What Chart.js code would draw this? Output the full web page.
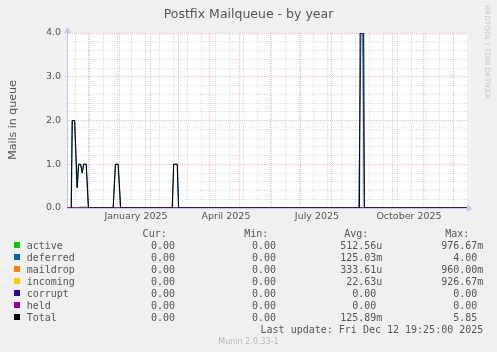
<!DOCTYPE html>
<html>
<head>
<meta charset="utf-8">
<script src="https://cdn.jsdelivr.net/npm/chart.js@4/dist/chart.umd.min.js"></script>
<style>
  html, body { margin: 0; padding: 0; background: #f0f0f0; }
  canvas { display: block; }
</style>
</head>
<body>
<canvas id="mailqueueChart" width="497" height="352"></canvas>
<script>
// x values are days counted from 1 January 2025
const seriesNames = ["active", "deferred", "maildrop", "incoming", "corrupt", "held", "Total"];
const seriesColors = ["#00cc00", "#0066b3", "#ff8000", "#ffcc00", "#330099", "#990099", "#000000"];

const activePoints = [[-52, 0], [-41, 0], [-40.5, 0.02], [-32, 0.02], [-31.5, 0], [347, 0]];
const deferredPoints = [
  [-52, 0], [-48.4, 0], [-47.4, 2.0], [-45, 2.0], [-42.6, 0.47], [-41, 1.0], [-39, 1.0],
  [-37.4, 0.8], [-36, 1.0], [-33.4, 1.0], [-31.2, 0],
  [-6.4, 0], [-4.2, 1.0], [-1.4, 1.0], [1.0, 0],
  [52.7, 0], [54.1, 1.0], [57.7, 1.0], [59.0, 0],
  [239.2, 0], [241.5, 4.0], [243.2, 4.0], [244.8, 0], [347, 0]
];
const maildropPoints = [[-52, 0], [347, 0]];
const incomingPoints = [[-52, 0], [347, 0]];
const corruptPoints = [[-52, 0], [347, 0]];
const heldPoints = [[-52.5, 0], [347.5, 0]];
const totalPoints = [
  [-48.2, 0], [-47.2, 2.0], [-44.8, 2.0], [-42.2, 0.47], [-40.8, 1.0], [-38.8, 1.0],
  [-37.2, 0.8], [-35.8, 1.0], [-33.2, 1.0], [-31, 0],
  [-6.3, 0], [-4, 1.0], [-1.3, 1.0], [1.2, 0],
  [52.8, 0], [54.2, 1.0], [57.8, 1.0], [59.2, 0],
  [240, 0], [240.6, 5.85], [244.2, 5.85], [244.9, 0], [347, 0]
];
const seriesPoints = [activePoints, deferredPoints, maildropPoints, incomingPoints, corruptPoints, heldPoints, totalPoints];

const curValues = ["0.00", "0.00", "0.00", "0.00", "0.00", "0.00", "0.00"];
const minValues = ["0.00", "0.00", "0.00", "0.00", "0.00", "0.00", "0.00"];
const avgValues = ["512.56u", "125.03m", "333.61u", "22.63u", "0.00", "0.00", "125.89m"];
const maxValues = ["976.67m", "4.00", "960.00m", "926.67m", "0.00", "0.00", "5.85"];

const monthStartDays = [-31, 0, 31, 59, 90, 120, 151, 181, 212, 243, 273, 304, 334];
const monthLabelDays = [16.5, 106.5, 197.5, 289.5];
const monthLabels = ["January 2025", "April 2025", "July 2025", "October 2025"];
const yMajorTicks = [0, 1, 2, 3, 4];

const chartTitle = "Postfix Mailqueue - by year";
const yAxisTitle = "Mails in queue";
const lastUpdate = "Last update: Fri Dec 12 19:25:00 2025";
const xMin = -52.5, xMax = 347.5, yMax = 4;

const textColor = "#555555";
const axisColor = "#c4c4f0";
const majorGrid = "rgba(240,140,140,0.6)";
const minorGrid = "rgba(190,190,190,0.5)";

// x grid: every other Monday, month starts, and label anchors
function xTickKind(v) {
  if (monthStartDays.includes(v)) return "month";
  if (monthLabelDays.includes(v)) return "label";
  return "week";
}

const xTicks = [];
for (let d = -44; d <= xMax; d += 14) if (!monthStartDays.includes(d)) xTicks.push(d);
monthStartDays.forEach(d => xTicks.push(d));
monthLabelDays.forEach(d => xTicks.push(d));
xTicks.sort((a, b) => a - b);

const datasets = seriesNames.map((name, i) => ({
  label: name,
  // rrdtool clamps values above the upper limit to the top edge
  data: seriesPoints[i].map(p => ({ x: p[0], y: Math.min(p[1], yMax) })),
  borderColor: seriesColors[i],
  borderWidth: 1,
  pointRadius: 0,
  tension: 0,
  fill: false,
  order: seriesNames.length - 1 - i
}));

const plotBackground = {
  id: "plotBackground",
  beforeDraw(chart) {
    const { ctx, chartArea: a } = chart;
    ctx.save();
    ctx.fillStyle = "#ffffff";
    ctx.fillRect(a.left, a.top, a.right - a.left, a.bottom - a.top);
    ctx.restore();
  }
};

const muninText = {
  id: "muninText",
  afterDraw(chart) {
    const ctx = chart.ctx;
    const area = chart.chartArea;
    ctx.save();

    // axis arrows
    ctx.fillStyle = axisColor;
    ctx.beginPath();
    ctx.moveTo(area.left - 3, area.top);
    ctx.lineTo(area.left + 0.5, area.top - 6);
    ctx.lineTo(area.left + 4, area.top);
    ctx.fill();
    ctx.beginPath();
    ctx.moveTo(area.right, area.bottom - 3.5);
    ctx.lineTo(area.right + 6, area.bottom + 0.5);
    ctx.lineTo(area.right, area.bottom + 4);
    ctx.fill();

    ctx.fillStyle = textColor;
    ctx.font = '12.5px "DejaVu Sans"';
    ctx.textAlign = "center";
    ctx.textBaseline = "alphabetic";
    ctx.fillText(chartTitle, 248.5, 18);

    ctx.save();
    ctx.font = '11px "DejaVu Sans"';
    ctx.translate(15.5, 120);
    ctx.rotate(-Math.PI / 2);
    ctx.fillText(yAxisTitle, 0, 0);
    ctx.restore();

    ctx.save();
    ctx.fillStyle = "#c8c8c8";
    ctx.font = '7.3px "DejaVu Sans"';
    ctx.textAlign = "left";
    ctx.translate(485, 5);
    ctx.rotate(Math.PI / 2);
    ctx.fillText("RRDTOOL / TOBI OETIKER", 0, 0);
    ctx.restore();

    // legend table
    ctx.font = '10px "DejaVu Sans Mono"';
    ctx.textAlign = "right";
    const headers = ["Cur:", "Min:", "Avg:", "Max:"];
    const headerX = [166.7, 268.3, 368.3, 469.3];
    const valueX = [181, 282, 382.3, 483.3];
    headers.forEach((h, j) => ctx.fillText(h, headerX[j], 237));
    const cols = [curValues, minValues, avgValues, maxValues];
    seriesNames.forEach((name, i) => {
      const y = 249 + i * 12;
      ctx.fillStyle = seriesColors[i];
      ctx.fillRect(14, y - 7, 6, 6);
      ctx.fillStyle = textColor;
      ctx.textAlign = "left";
      ctx.fillText(name, 26.7, y);
      ctx.textAlign = "right";
      cols.forEach((col, j) => {
        const v = col[i];
        const s = /[a-z]$/i.test(v) ? v : v + " ";
        ctx.fillText(s, valueX[j], y);
      });
    });
    ctx.fillText(lastUpdate, 483.3, 333);

    ctx.fillStyle = "#b8b8b8";
    ctx.font = '8px "DejaVu Sans"';
    ctx.textAlign = "center";
    ctx.fillText("Munin 2.0.33-1", 248.5, 344);
    ctx.restore();
  }
};

new Chart(document.getElementById("mailqueueChart"), {
  type: "line",
  data: { datasets },
  options: {
    responsive: false,
    animation: false,
    events: [],
    layout: { padding: { left: 0, right: 30, top: 33, bottom: 124 } },
    plugins: { legend: { display: false }, title: { display: false }, tooltip: { enabled: false } },
    scales: {
      x: {
        type: "linear",
        min: xMin,
        max: xMax,
        afterFit: s => { s.height = 20; },
        afterBuildTicks: s => { s.ticks = xTicks.map(v => ({ value: v })); },
        grid: {
          drawTicks: false,
          color: c => {
            const k = xTickKind(c.tick ? c.tick.value : null);
            return k === "month" ? majorGrid : k === "week" ? minorGrid : "rgba(0,0,0,0)";
          }
        },
        border: { color: axisColor, width: 1, dash: [1, 1] },
        ticks: {
          autoSkip: false,
          maxRotation: 0,
          minRotation: 0,
          padding: 3,
          color: textColor,
          font: { family: "DejaVu Sans", size: 9.5 },
          callback: v => {
            const i = monthLabelDays.indexOf(v);
            return i >= 0 ? monthLabels[i] : "";
          }
        }
      },
      y: {
        min: 0,
        max: yMax,
        afterFit: s => { s.width = 67; },
        afterBuildTicks: s => {
          const t = [];
          for (let i = 0; i <= 20; i++) t.push({ value: Math.round(i * 2) / 10 });
          s.ticks = t;
        },
        grid: {
          drawTicks: false,
          color: c => (c.tick && yMajorTicks.includes(c.tick.value)) ? majorGrid : minorGrid
        },
        border: { color: axisColor, width: 1, dash: [1, 1] },
        ticks: {
          autoSkip: false,
          padding: 6,
          color: textColor,
          font: { family: "DejaVu Sans", size: 9.5 },
          callback: v => yMajorTicks.includes(v) ? v.toFixed(1) : ""
        }
      }
    }
  },
  plugins: [plotBackground, muninText]
});
</script>
</body>
</html>
